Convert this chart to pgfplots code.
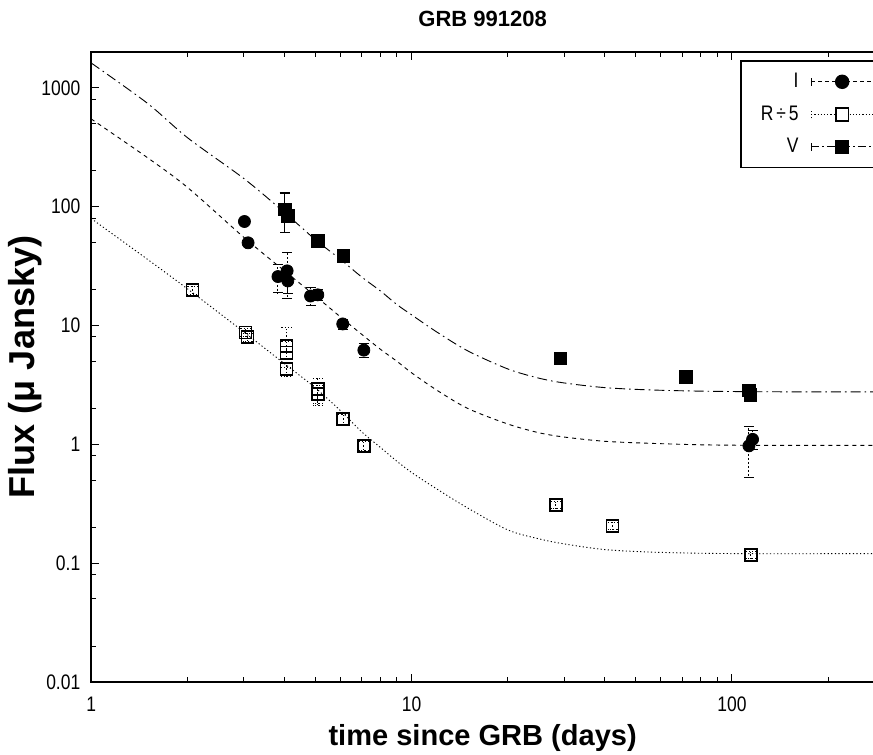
\documentclass[border=0pt]{standalone}
\usepackage{fontspec}
\setmainfont{Liberation Sans}
\usepackage{pgfplots}
\pgfplotsset{compat=1.18}
\usetikzlibrary{calc}

\newcommand{\nar}[1]{\scalebox{0.83}[1]{#1}}

\begin{document}
\begin{tikzpicture}
\begin{axis}[
    scale only axis,
    width=391pt, height=314.5pt,
    xmode=log, ymode=log,
    xmin=1, xmax=278, ymin=0.01, ymax=2000,
    xtick={1,10,100}, xticklabels={1,10,100},
    ytick={0.01,0.1,1,10,100,1000},
    yticklabels={0.01,0.1,1,10,100,1000},
    minor xtick={2,3,4,5,6,7,8,9,20,30,40,50,60,70,80,90,200},
    minor ytick={0.02,0.05,0.08,0.2,0.5,0.8,2,5,8,20,50,80,200,500,800},
    ytick pos=left,
    tick align=inside,
    major tick length=4pt, minor tick length=2.3pt,
    tick style={black, line width=0.5pt},
    axis line style={line width=0.9pt},
    tick label style={font=\fontsize{10.5}{12}\selectfont, xscale=0.83},
    xticklabel style={yshift=-4pt},
    yticklabel style={xshift=-3pt},
    title={GRB 991208},
    title style={font=\bfseries\fontsize{11}{13}\selectfont, yshift=3pt},
    xlabel={time since GRB (days)},
    ylabel={Flux (μ Jansky)},
    xlabel style={font=\bfseries\fontsize{14.5}{16}\selectfont, yshift=0.5pt},
    ylabel style={font=\bfseries\fontsize{18}{20}\selectfont, yshift=-6.5pt},
    legend style={at={(rel axis cs:0.8286,0.987)}, anchor=north west,
        draw=black, line width=0.8pt, font=\fontsize{10.5}{11}\selectfont,
        inner xsep=8pt, inner ysep=4pt, row sep=3.5pt, column sep=4pt,
        cells={anchor=east}},
    legend plot pos=right,
]
% model curves
\addplot[forget plot, black, line width=0.45pt, dash pattern=on 5pt off 2pt on 0.8pt off 2pt, smooth] coordinates {
 (1,1620) (1.5,740) (2,380) (3,172) (4,90) (5,53) (6,36) (7,25.5) (8,19.5) (9,15)
 (10,12.3) (12,8.8) (15,6.1) (20,4.3) (25,3.6) (30,3.28) (40,3.0) (55,2.87)
 (80,2.8) (120,2.77) (200,2.76) (278,2.76)
};
\addplot[forget plot, black, line width=0.45pt, dash pattern=on 2pt off 2pt, smooth] coordinates {
 (1,548) (1.5,258) (2,145) (3,55) (4,29) (5,17.8) (6,11.8) (7,8.4) (8,6.3) (9,5.0)
 (10,4.0) (12,2.85) (15,2.0) (20,1.48) (25,1.25) (30,1.15) (40,1.06) (55,1.02)
 (80,0.99) (120,0.98) (200,0.98) (278,0.98)
};
\addplot[forget plot, black, line width=0.45pt, dash pattern=on 0.6pt off 1.2pt, smooth] coordinates {
 (1,79.5) (1.5,36) (2,20.3) (3,8.8) (4,4.8) (5,3.0) (6,1.92) (7,1.27) (8,0.94) (9,0.72)
 (10,0.58) (12,0.42) (15,0.29) (20,0.19) (25,0.16) (30,0.145) (40,0.13) (55,0.124)
 (80,0.121) (120,0.12) (200,0.12) (278,0.12)
};

% I
\addplot[forget plot, only marks, mark=*, mark size=3pt, black,
    error bars/.cd, y dir=both, y explicit,
    error bar style={line width=0.5pt, dash pattern=on 1pt off 1pt},
    error mark options={rotate=90, mark size=2.5pt, solid, line width=0.5pt}]
  coordinates {
 (3.01,75) +- (0,3)
 (3.09,49.6) +- (0,2)
 (3.83,25.8) +- (0,7)
 (4.09,28.8) +- (0,12)
 (4.11,23.7) +- (0,5)
 (4.84,17.7) +- (0,3)
 (5.10,18.1) +- (0,2)
 (6.1,10.3) +- (0,1)
 (7.1,6.2) +- (0,0.8)
 (113,0.97) +- (0,0.44)
 (116,1.10) +- (0,0.2)
};
% R / 5
\addplot[forget plot, only marks, mark=square, mark size=3pt, black, mark options={line width=0.8pt},
    error bars/.cd, y dir=both, y explicit,
    error bar style={line width=0.5pt, dash pattern=on 0.6pt off 1pt},
    error mark options={rotate=90, mark size=2.5pt, line width=0.5pt, dash pattern=on 0.6pt off 1pt}]
  coordinates {
 (2.07,19.8) +- (0,1.5)
 (3.03,8.7) +- (0,0.7)
 (3.08,8.0) +- (0,0.6)
 (4.07,6.7) +- (0,2.9)
 (4.07,5.9) +- (0,1.5)
 (4.07,4.3) +- (0,0.6)
 (5.10,2.91) +- (0,0.7)
 (5.10,2.64) +- (0,0.5)
 (6.12,1.63) +- (0,0.15)
 (7.1,0.97) +- (0,0.08)
 (28.2,0.307) +- (0,0.02)
 (42.4,0.206) +- (0,0.015)
 (114.6,0.117) +- (0,0.008)
};
% V
\addplot[forget plot, only marks, mark=square*, mark size=3.1pt, black,
    error bars/.cd, y dir=both, y explicit,
    error bar style={line width=0.6pt},
    error mark options={rotate=90, mark size=2.5pt, line width=0.6pt}]
  coordinates {
 (4.02,95.3) +- (0,35)
 (4.11,83.7) +- (0,5)
 (5.10,51.5) +- (0,3)
 (6.12,38.5) +- (0,3)
 (29.2,5.3) +- (0,0.3)
 (71.8,3.69) +- (0,0.2)
 (113,2.85) +- (0,0.2)
 (114,2.6) +- (0,0.15)
};

% legend (gnuplot style: line, mark and error-bar caps)
\addlegendimage{legend image code/.code={
  \draw[black, line width=0.45pt, dash pattern=on 2pt off 1.5pt] (0pt,0pt) -- (31pt,0pt);
  \draw[black, line width=0.5pt] (0pt,-2pt) -- (0pt,2pt) (31pt,-2pt) -- (31pt,2pt);
  \draw[black, mark=*, mark size=3.2pt] plot coordinates {(15.5pt,0pt)};}}
\addlegendentry{\nar{I}}
\addlegendimage{legend image code/.code={
  \draw[black, line width=0.45pt, dash pattern=on 0.6pt off 1pt] (0pt,0pt) -- (31pt,0pt);
  \draw[black, line width=0.5pt, dash pattern=on 0.6pt off 1pt] (0pt,-2pt) -- (0pt,2pt) (31pt,-2pt) -- (31pt,2pt);
  \draw[black, mark=square*, mark size=3.2pt, mark options={line width=0.8pt, fill=white}] plot coordinates {(15.5pt,0pt)};}}
\addlegendentry{\nar{R\,÷\,5}}
\addlegendimage{legend image code/.code={
  \draw[black, line width=0.45pt, dash pattern=on 4pt off 1.5pt on 0.8pt off 1.5pt] (0pt,0pt) -- (31pt,0pt);
  \draw[black, line width=0.6pt] (0pt,-2pt) -- (0pt,2pt) (31pt,-2pt) -- (31pt,2pt);
  \draw[black, mark=square*, mark size=3.2pt] plot coordinates {(15.5pt,0pt)};}}
\addlegendentry{\nar{V}}
\end{axis}
\pgfresetboundingbox
\path[use as bounding box] ($(current axis.south west)+(-45.5pt,-36pt)$) rectangle
  ($(current axis.north east)+(-0.6pt,26pt)$);
\end{tikzpicture}
\end{document}
